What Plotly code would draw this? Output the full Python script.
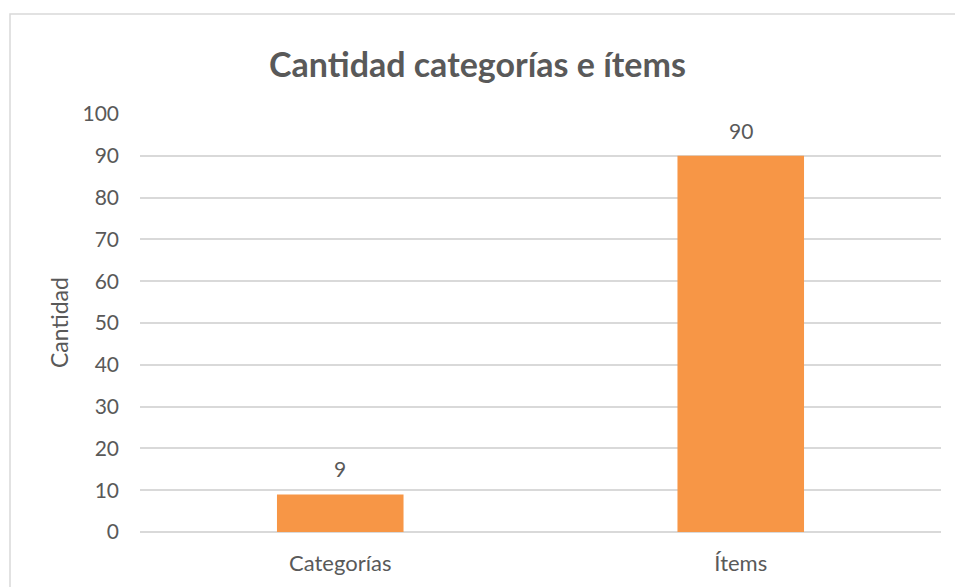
import plotly.graph_objects as go

categories = ["Categorías", "Ítems"]
values = [9, 90]
y_ticks = [0, 10, 20, 30, 40, 50, 60, 70, 80, 90, 100]

W, H = 955, 587
L, R, T, B = 140, 14, 114, 55
pw = W - L - R
ph = H - T - B

TEXT = "#595959"
GRID = "#D9D9D9"
FONT = "Lato, Carlito, Calibri, sans-serif"

fig = go.Figure()
fig.add_trace(go.Bar(
    x=categories, y=values,
    marker=dict(color="#F79646", line=dict(width=0)),
    cliponaxis=False,
))

def px_x(x):
    return (x - L) / pw

def px_y(y):
    return (H - B - y) / ph

annotations = [dict(text=str(v), x=c, y=v, xref="x", yref="y",
                    xanchor="center", yanchor="bottom", yshift=11,
                    showarrow=False, font=dict(size=21, color=TEXT, family=FONT))
               for c, v in zip(categories, values)]
annotations.append(dict(text="Cantidad", textangle=-90,
                        x=px_x(59), y=0.5, xref="paper", yref="paper",
                        xanchor="center", yanchor="middle", showarrow=False,
                        font=dict(size=23, color=TEXT, family=FONT)))

fig.update_layout(
    width=W, height=H,
    margin=dict(l=L, r=R, t=T, b=B),
    paper_bgcolor="white", plot_bgcolor="white",
    bargap=0.684,
    showlegend=False,
    font=dict(family=FONT, color=TEXT, size=21),
    title=dict(text="<b>Cantidad categorías e ítems</b>",
               x=0.5, xanchor="center", xref="container",
               y=1 - 65 / H, yanchor="middle", yref="container",
               font=dict(size=34, color=TEXT, family=FONT)),
    xaxis=dict(showgrid=False, showline=False, zeroline=False,
               tickfont=dict(size=22, color=TEXT), ticks="",
               ticklabelstandoff=16),
    yaxis=dict(range=[0, 100], tickvals=y_ticks, showgrid=True,
               gridcolor=GRID, gridwidth=1.5, zeroline=True,
               zerolinecolor=GRID, zerolinewidth=1.5, showline=False,
               tickfont=dict(size=21, color=TEXT), ticks="",
               ticklabelstandoff=20),
    annotations=annotations,
    shapes=[dict(type="rect", xref="paper", yref="paper",
                 x0=px_x(10), x1=px_x(990), y0=px_y(620), y1=px_y(14),
                 line=dict(color=GRID, width=1.5), fillcolor="rgba(0,0,0,0)", layer="below")],
)

fig.write_html("out.html", config={"displayModeBar": False},
               post_script="document.body.style.margin='0';")
